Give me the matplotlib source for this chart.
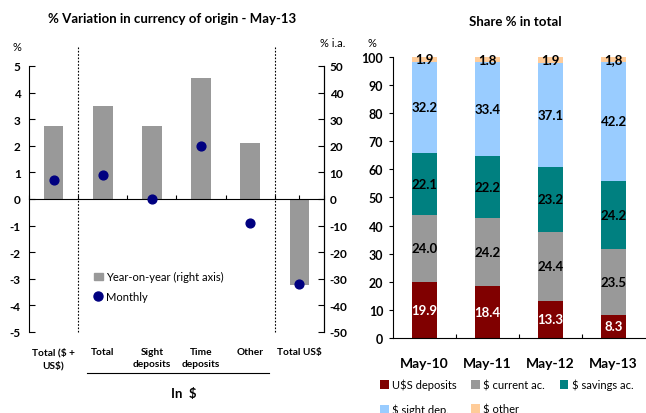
import matplotlib
matplotlib.use("Agg")
import matplotlib.pyplot as plt
from matplotlib.patches import Patch
from matplotlib.lines import Line2D
import numpy as np

plt.rcParams['font.family'] = ['Lato', 'DejaVu Sans']
plt.rcParams['axes.unicode_minus'] = False

# left chart data
var_cats = ['Total ($ +\nUS$)', 'Total', 'Sight\ndeposits', 'Time\ndeposits', 'Other', 'Total US$']
yoy = [27.5, 35.0, 27.5, 45.3, 21.0, -32.5]
monthly = [0.7, 0.9, 0.0, 2.0, -0.9, -3.2]

# right chart data
years = ['May-10', 'May-11', 'May-12', 'May-13']
usd_dep = [19.9, 18.4, 13.3, 8.3]
cur_ac = [24.0, 24.2, 24.4, 23.5]
sav_ac = [22.1, 22.2, 23.2, 24.2]
sight_dep = [32.2, 33.4, 37.1, 42.2]
other = [1.9, 1.8, 1.9, 1.8]
other_lbl = ['1.9', '1.8', '1.9', '1,8']
share_names = ['U$S deposits', '$ current ac.', '$ savings ac.', '$ sight dep.', '$ other']
share_cols = ['#800000', '#999999', '#008080', '#99ccff', '#ffcc99']

fig = plt.figure(figsize=(6.46, 4.14), dpi=100)

# ---- left: bars on right axis, dots on left axis
ax = fig.add_axes([0.0449, 0.1957, 0.4566, 0.6425])
ax2 = ax.twinx()
x = np.arange(len(var_cats))
ax.bar(x, yoy, width=0.4, color='#999999', zorder=2)
ax.set_ylim(-50, 50)
ax.set_yticks(range(-50, 51, 10))
ax.yaxis.tick_right()
ax.set_xlim(-0.5, len(var_cats) - 0.5)
ax.spines['top'].set_visible(False)
ax.spines['left'].set_visible(False)
ax.spines['bottom'].set_position(('data', 0))
ax.set_xticks(np.arange(-0.5, len(var_cats), 0.5))
ax.set_xticklabels([])
ax.tick_params(axis='x', direction='in', length=3, width=0.8)
ax.tick_params(axis='y', direction='in', length=4, width=0.8, labelsize=8.5, pad=4)
for t in ax.get_yticklabels():
    t.set_fontweight('bold')

ax2.scatter(x, monthly, s=40, color='#000080', zorder=5)
ax2.set_ylim(-5, 5)
ax2.set_yticks(range(-5, 6))
ax2.yaxis.tick_left()
ax2.spines['top'].set_visible(False)
ax2.spines['bottom'].set_visible(False)
ax2.tick_params(axis='y', direction='in', length=4, width=0.8, labelsize=8.5, pad=6)
for t in ax2.get_yticklabels():
    t.set_fontweight('bold')
ax2.vlines([0.5, 4.5], -5, 5.7, colors='black', linestyles=(0, (1.5, 1.5)), lw=0.8, clip_on=False)

for i, c in enumerate(var_cats):
    ax.text(i, -0.055, c, transform=ax.get_xaxis_transform(), ha='center', va='top',
            fontsize=7.3, fontweight='bold', linespacing=1.45)
ax.plot([0.68, 4.38], [-0.155, -0.155], transform=ax.get_xaxis_transform(),
        color='black', lw=0.8, clip_on=False)
ax.text(2.65, -0.205, 'In  $', transform=ax.get_xaxis_transform(), ha='center', va='top',
        fontsize=9.5, fontweight='bold')

h = [Patch(color='#999999'), Line2D([], [], marker='o', ls='', color='#000080', markersize=6.5)]
ax2.legend(h, ['Year-on-year (right axis)', 'Monthly'], loc='upper left',
           bbox_to_anchor=(0.205, 0.245), frameon=False, fontsize=8,
           handlelength=0.8, handletextpad=0.3, labelspacing=0.75, borderaxespad=0)

fig.text(0.267, 0.955, '% Variation in currency of origin - May-13', ha='center', va='center',
         fontsize=9.5, fontweight='bold')
fig.text(0.026, 0.886, '%', ha='center', va='center', fontsize=8)
fig.text(0.515, 0.896, '% i.a.', ha='center', va='center', fontsize=8)

# ---- right: stacked shares
bx = fig.add_axes([0.6084, 0.1812, 0.39, 0.6787])
xs = np.arange(len(years))
bottom = np.zeros(len(years))
series = [usd_dep, cur_ac, sav_ac, sight_dep, other]
bars = []
for k, vals in enumerate(series):
    vals = np.array(vals)
    b = bx.bar(xs, vals, bottom=bottom, width=0.41, color=share_cols[k], label=share_names[k])
    bars.append(b)
    for j in range(len(years)):
        lbl = other_lbl[j] if k == 4 else f'{vals[j]:.1f}'
        bx.text(xs[j], bottom[j] + vals[j] / 2, lbl, ha='center', va='center',
                fontsize=9.5, fontweight='bold',
                color='white' if k == 0 else 'black')
    bottom = bottom + vals
bx.set_ylim(0, 100)
bx.set_yticks(range(0, 101, 10))
bx.set_xlim(-0.5, len(years) - 0.5)
bx.set_xticks(xs)
bx.set_xticklabels(years, fontsize=10, fontweight='bold')
bx.set_xticks([0.5, 1.5, 2.5], minor=True)
bx.tick_params(axis='x', which='major', length=0, pad=14)
bx.tick_params(axis='x', which='minor', direction='in', length=3, width=0.8)
bx.tick_params(axis='y', direction='out', length=3, width=0.8, labelsize=9, pad=4)
for t in bx.get_yticklabels():
    t.set_fontweight('bold')
bx.spines['top'].set_visible(False)
bx.spines['right'].set_visible(False)

# legend filled row by row (matplotlib fills columns first)
order = [0, 3, 1, 4, 2]
bx.legend([bars[i] for i in order], [share_names[i] for i in order],
          loc='upper left', bbox_to_anchor=(-0.07, -0.13), ncol=3, frameon=False,
          fontsize=8, handlelength=0.8, handleheight=0.9, handletextpad=0.3,
          columnspacing=1.3, labelspacing=1.2, borderaxespad=0)

fig.text(0.797, 0.947, 'Share % in total', ha='center', va='center', fontsize=9.5, fontweight='bold')
fig.text(0.576, 0.896, '%', ha='center', va='center', fontsize=8)

fig.savefig('out.png', dpi=100)
